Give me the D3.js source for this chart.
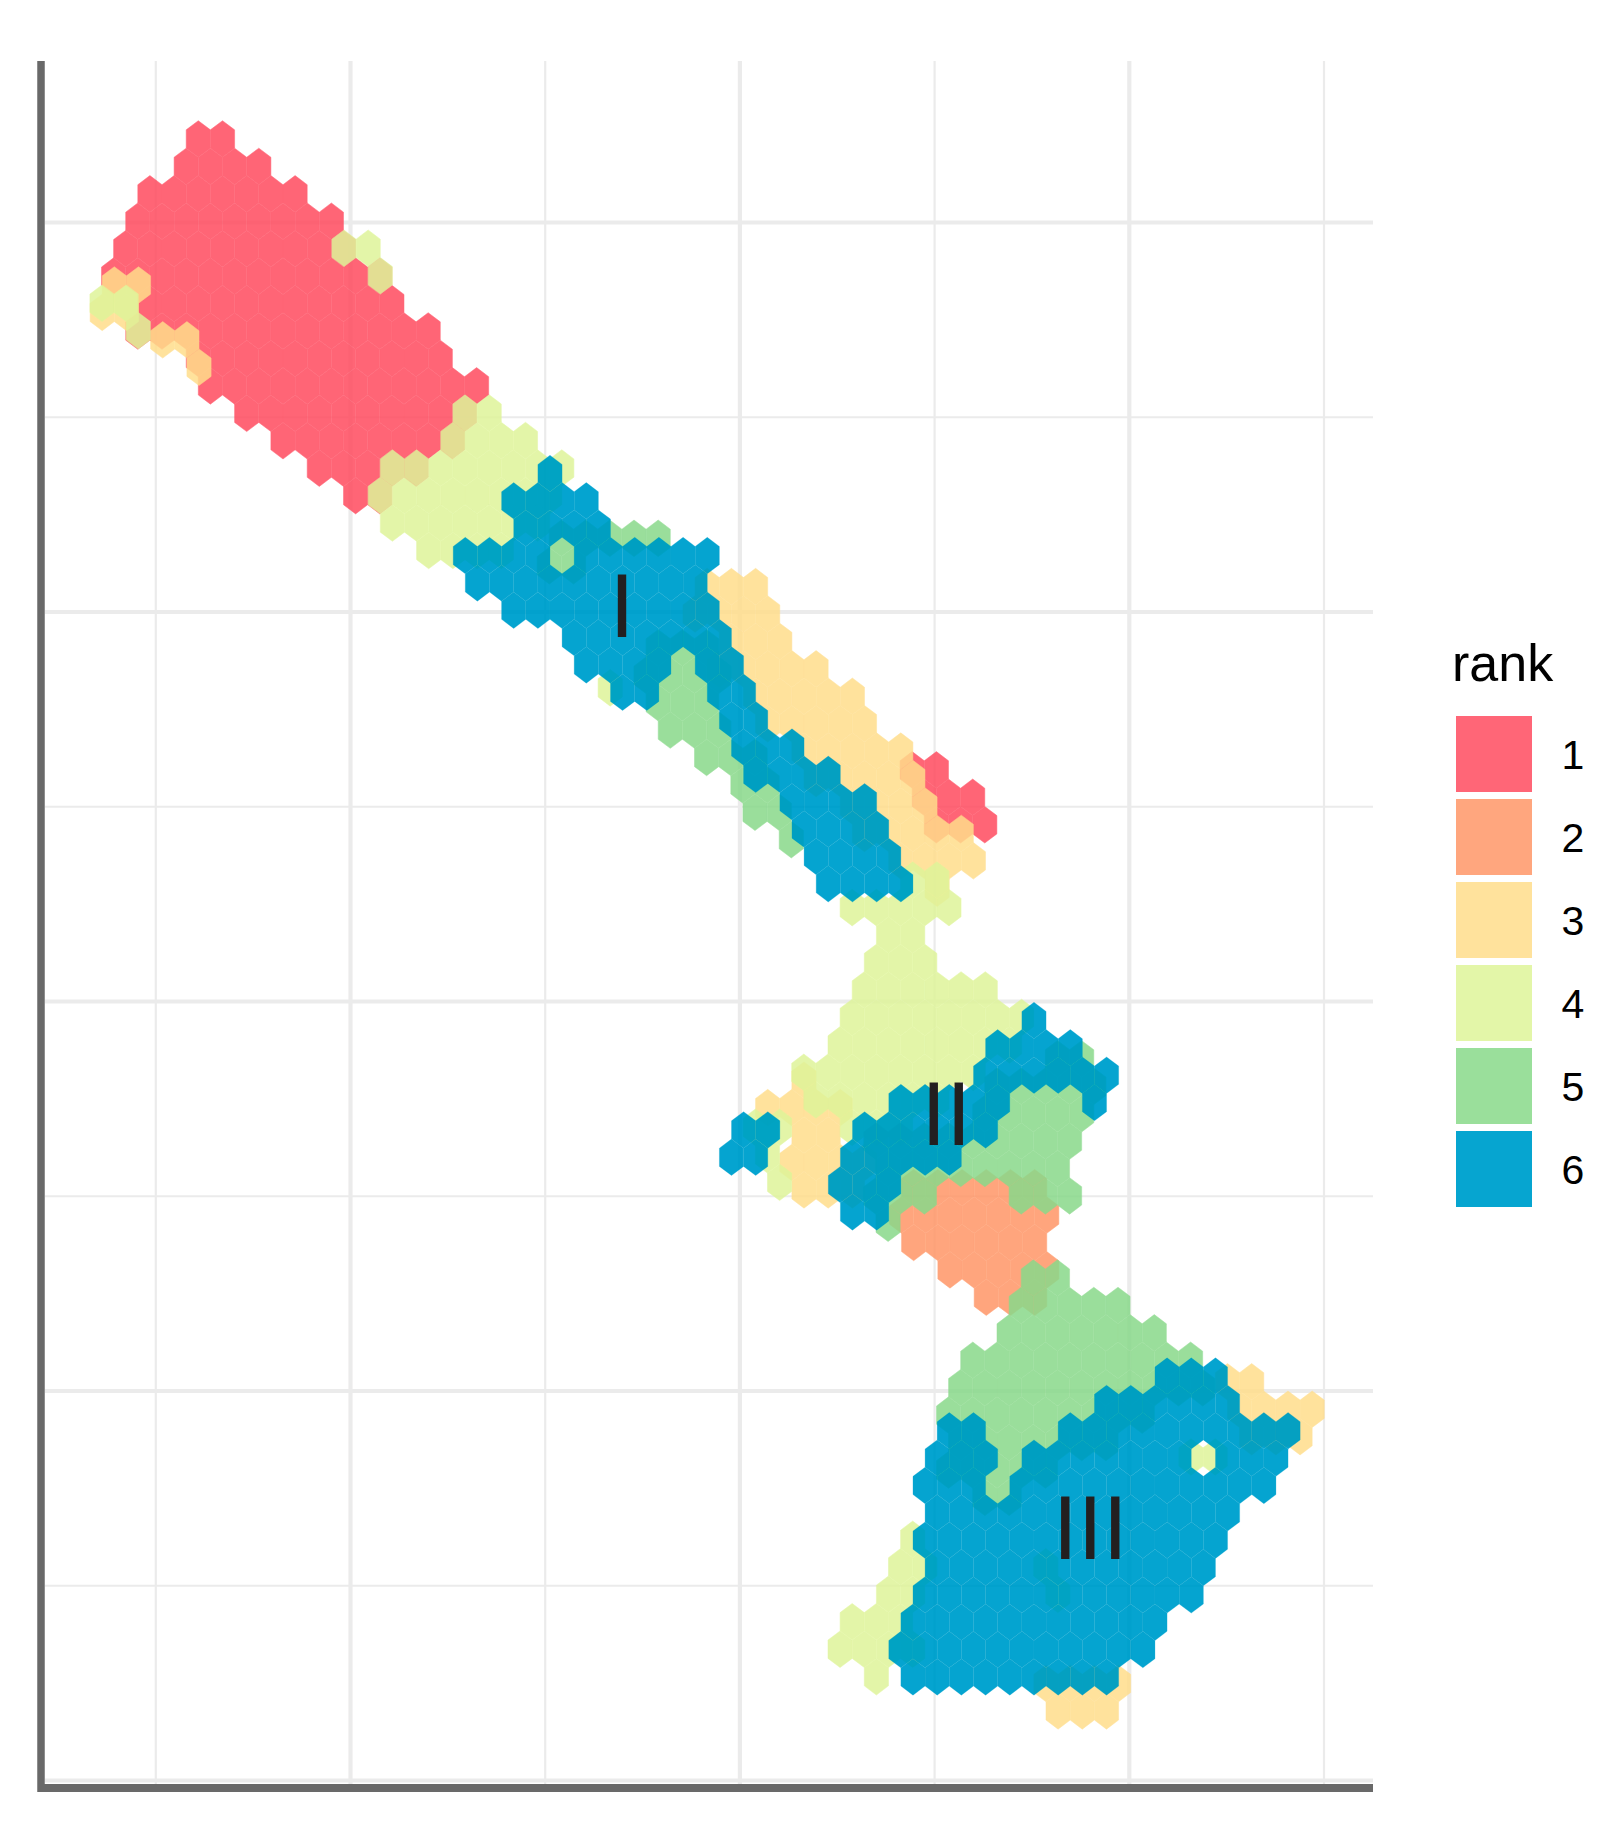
<!DOCTYPE html>
<html>
<head>
<meta charset="utf-8">
<script src="https://cdn.jsdelivr.net/npm/d3@7"></script>
<style>
  body { margin: 0; background: #fff; }
  text { font-family: "Liberation Sans", Arial, sans-serif; }
</style>
</head>
<body>
<div id="chart"></div>
<script>
// occupied hexagon bins, one list per rank: [row, first column, last column]
var rank1Bins = [[0,0,1],[1,-1,2],[2,-2,4],[3,-3,5],[4,-3,6],[5,-4,7],[6,-2,8],[7,-3,9],[8,0,10],[9,0,11],[10,2,11],[11,3,10],[12,5,9],[13,6,7],
  [23,29,30],[24,30,32],[25,30,32]];
var rank2Bins = [[0,0,5],[1,-1,5],[2,0,5],[3,1,5],[4,3,5]];
var rank3Bins = [[0,0,1],[1,-1,0],[2,2,3],[3,3,3],
  [11,24,26],[12,24,27],[13,25,27],[14,25,29],[15,26,30],[16,27,31],[17,28,32],[18,29,33],[19,30,33],[20,31,35],[21,32,35],[22,34,34],
  [29,28,28],[30,27,30],[31,28,29],[32,28,31],[33,28,30],
  [40,46,47],[41,46,49],[42,47,49],[51,38,41],[52,39,41]];
var rank4Bins = [[0,0,1],[1,1,1],[2,-10,-9],[3,-9,-9],
  [6,5,6],[7,4,7],[8,2,9],[9,1,8],[10,2,8],[11,3,6],[16,11,11],
  [23,23,24],[24,21,25],[25,22,23],[26,22,24],[27,21,26],[28,21,28],[29,20,27],[30,19,26],[31,19,24],[32,17,18],[32,21,23],[33,17,17],[34,18,18],
  [44,35,36],[47,23,23],[48,23,24],[48,29,29],[49,22,23],[49,29,29],[50,21,23],[51,20,23],[52,22,22]];
var rank5Bins = [[0,-3,1],[1,-4,-3],[4,1,3],[5,0,3],[6,1,3],[7,1,3],[8,3,5],[9,4,5],[10,5,6],[11,6,6],
  [19,17,18],[20,15,19],[21,14,18],[22,10,18],[23,10,17],[24,10,12],[24,16,18],[25,10,10],
  [27,16,17],[28,16,20],[29,15,21],[30,14,23],[31,13,23],[32,13,21],[33,13,19],[34,13,17],[35,14,15]];
var rank6Bins = [[0,0,0],[1,-2,1],[2,-1,2],[3,-4,-1],[3,1,6],[4,-3,6],[5,-2,6],[6,1,7],[7,1,4],[7,6,7],[8,3,4],[8,7,8],[9,7,8],[10,8,10],[11,8,11],[12,10,13],[13,10,13],[14,11,14],[15,11,14],
  [20,20,20],[21,18,21],[22,18,23],[23,14,18],[23,22,22],[24,8,9],[24,13,18],[25,7,8],[25,12,16],[26,12,14],[27,12,13],
  [33,25,27],[34,23,28],[35,16,17],[35,21,30],[36,16,18],[36,20,26],[36,28,30],[37,15,17],[37,19,29],[38,16,28],[39,15,27],[40,16,27],[41,15,26],[42,15,25],[43,14,24],[44,15,23]];

var ranks = ["1", "2", "3", "4", "5", "6"];
var rankBins = [rank1Bins, rank2Bins, rank3Bins, rank4Bins, rank5Bins, rank6Bins];
var rankColors = ["#ff4b5f", "#ff9667", "#ffdd8b", "#e3f499", "#98d98a", "#0095c8"];

// each rank was binned on its own, so each has its own bin origin and row height
var binX0 = [1.2183, 4.8925, 0.7869, 1.9666, 3.4561, 3.0246];
var binY0 = [8.4288, 3.0441, 7.6791, 7.8675, 6.3784, 6.7112];
var binRow = [0.14085, 0.14069, 0.1408, 0.14105, 0.14069, 0.14044];
var binCol = 0.12429;

var majorX = [2, 4, 6], minorX = [1, 3, 5, 7];
var majorY = [0, 2, 4, 6, 8], minorY = [1, 3, 5, 7];

var groupLabels = ["I", "II", "III"];
var groupX = [3.394, 5.06, 5.80];
var groupY = [5.873, 3.263, 1.1375];

var svg = d3.select("#chart").append("svg")
    .attr("width", 1623)
    .attr("height", 1829);

// the print's blue has almost no red in it, even with the alpha: pull the low reds down
svg.append("defs").append("filter")
    .attr("id", "tone")
    .attr("filterUnits", "userSpaceOnUse")
    .attr("x", 0).attr("y", 0).attr("width", 1623).attr("height", 1829)
    .attr("color-interpolation-filters", "sRGB")
    .append("feColorMatrix")
    .attr("type", "matrix")
    .attr("values", "1.149 0 0 0 -0.149  0 1 0 0 0  0 0 1 0 0  0 0 0 1 0");

var plot = svg.append("g").attr("filter", "url(#tone)");
plot.append("rect").attr("width", 1623).attr("height", 1829).attr("fill", "#fff");

var x = d3.scaleLinear().domain([1, 7]).range([155.8, 1324]);
var y = d3.scaleLinear().domain([8, 0]).range([222.5, 1780.5]);

// grid
var panelLeft = 45, panelRight = 1373, panelTop = 61, panelBottom = 1785;
function gridV(vals, w) {
  plot.append("g").selectAll("line").data(vals).enter().append("line")
      .attr("x1", function(d) { return x(d); })
      .attr("x2", function(d) { return x(d); })
      .attr("y1", panelTop).attr("y2", panelBottom)
      .attr("stroke", "#eeebeb").attr("stroke-width", w);
}
function gridH(vals, w) {
  plot.append("g").selectAll("line").data(vals).enter().append("line")
      .attr("y1", function(d) { return y(d); })
      .attr("y2", function(d) { return y(d); })
      .attr("x1", panelLeft).attr("x2", panelRight)
      .attr("stroke", "#eeebeb").attr("stroke-width", w);
}
gridV(minorX, 2.2); gridH(minorY, 2.2);
gridV(majorX, 4.2); gridH(majorY, 4.2);

// hexagons, rank 1 at the bottom and rank 6 on top
var hexLine = d3.line();
function hexPath(d) {
  var w = (x(binCol) - x(0)) / 2,
      h = (y(0) - y(binRow[d.rank])) * 2 / 3,
      cx = x(binX0[d.rank] + binCol * (d.col + (Math.abs(d.row) % 2) / 2)),
      cy = y(binY0[d.rank] - binRow[d.rank] * d.row);
  return hexLine([[cx, cy - h], [cx + w, cy - h / 2], [cx + w, cy + h / 2],
                  [cx, cy + h], [cx - w, cy + h / 2], [cx - w, cy - h / 2]]) + "Z";
}
rankBins.forEach(function(bins, i) {
  var cells = [];
  bins.forEach(function(b) {
    d3.range(b[1], b[2] + 1).forEach(function(c) {
      cells.push({rank: i, row: b[0], col: c});
    });
  });
  // opacity on the group so neighbouring hexagons do not show wide seams
  plot.append("g").attr("opacity", 0.85).selectAll("path").data(cells).enter().append("path")
      .attr("d", hexPath)
      .attr("fill", rankColors[i])
      .attr("stroke", rankColors[i])
      .attr("stroke-width", i == 5 ? 0.25 : 0.5);
});

// legend keys
plot.append("g").selectAll("rect").data(ranks).enter().append("rect")
    .attr("x", 1456)
    .attr("y", function(d, i) { return 716 + i * 83; })
    .attr("width", 76).attr("height", 76)
    .attr("fill", function(d, i) { return rankColors[i]; })
    .attr("fill-opacity", 0.85);

// axis lines
svg.append("line").attr("x1", 41).attr("x2", 41).attr("y1", panelTop).attr("y2", 1792)
    .attr("stroke", "#696969").attr("stroke-width", 7.5);
svg.append("line").attr("x1", 41).attr("x2", panelRight).attr("y1", 1788).attr("y2", 1788)
    .attr("stroke", "#696969").attr("stroke-width", 8);

// group labels
svg.append("g").selectAll("text").data(groupLabels).enter().append("text")
    .attr("x", function(d, i) { return x(groupX[i]); })
    .attr("y", function(d, i) { return y(groupY[i]); })
    .attr("text-anchor", "middle")
    .attr("font-size", 90)
    .attr("fill", "#231f20")
    .text(function(d) { return d; });

// legend labels
svg.append("text")
    .attr("x", 1452).attr("y", 681)
    .attr("font-size", 52)
    .attr("fill", "#000")
    .text("rank");
svg.append("g").selectAll("text").data(ranks).enter().append("text")
    .attr("x", 1573)
    .attr("y", function(d, i) { return 769 + i * 83; })
    .attr("text-anchor", "middle")
    .attr("font-size", 41)
    .attr("fill", "#000")
    .text(function(d) { return d; });
</script>
</body>
</html>
